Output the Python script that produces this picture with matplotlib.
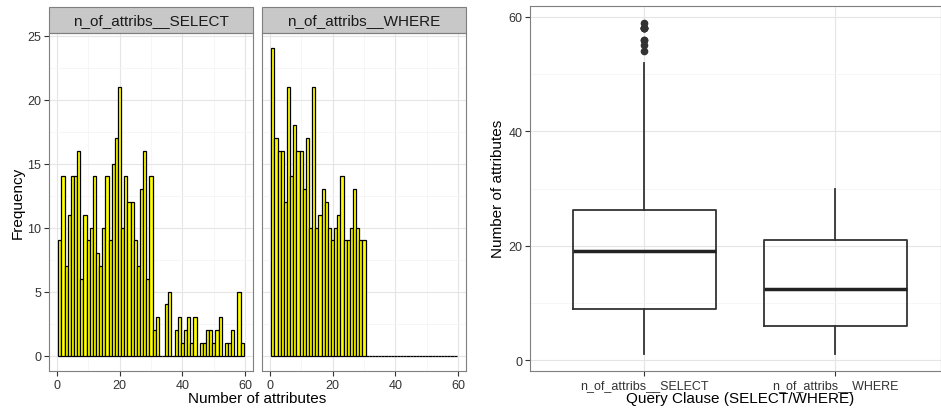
import matplotlib
matplotlib.use("Agg")
from matplotlib.patches import Rectangle
from matplotlib.ticker import MultipleLocator
import matplotlib.pyplot as plt
import numpy as np

plt.rcParams["font.family"] = ["Liberation Sans", "DejaVu Sans"]

# histogram counts per number of attributes (1..59)
n_attribs = np.arange(1, 60)
select_counts = [9, 14, 7, 11, 14, 14, 16, 6, 11, 9,
                 10, 14, 8, 7, 10, 14, 9, 15, 17, 21,
                 10, 14, 12, 12, 9, 7, 13, 16, 6, 14,
                 2, 3, 0, 0, 4, 5, 0, 2, 3, 1,
                 2, 3, 1, 3, 0, 1, 1, 2, 2, 1,
                 2, 3, 0, 1, 1, 2, 0, 5, 1]
where_counts = [24, 17, 16, 16, 12, 21, 14, 18, 16, 16,
                13, 17, 10, 21, 10, 11, 13, 12, 10, 9,
                10, 11, 14, 9, 9, 10, 13, 10, 9, 9] + [0] * 29
facet_names = ["n_of_attribs__SELECT", "n_of_attribs__WHERE"]

grid_major, grid_minor = "#e5e5e5", "#f5f5f5"
border_col, text_col = "#7f7f7f", "#333333"
W, H = 941, 410


def px_box(x0, y0, x1, y1):
    # pixel box (top-left origin) -> figure fraction rect
    return [x0 / W, 1 - y1 / H, (x1 - x0) / W, (y1 - y0) / H]


def style_axes(ax):
    ax.set_facecolor("white")
    for sp in ax.spines.values():
        sp.set_color(border_col)
        sp.set_linewidth(0.8)
    ax.grid(which="major", color=grid_major, lw=0.8)
    ax.grid(which="minor", color=grid_minor, lw=0.6)
    ax.set_axisbelow(True)
    ax.tick_params(which="major", length=3.5, width=0.8, color=text_col,
                   labelcolor=text_col, labelsize=9, pad=2)
    ax.tick_params(which="minor", length=0)


fig = plt.figure(figsize=(W / 100, H / 100), dpi=100)

panels = [(49, 253), (262, 466)]
for i, (counts, name) in enumerate(zip([select_counts, where_counts], facet_names)):
    x0, x1 = panels[i]
    ax = fig.add_axes(px_box(x0, 34, x1, 372))
    style_axes(ax)
    ax.bar(n_attribs, counts, width=1, color="yellow", edgecolor="black", lw=0.9)
    ax.set_xlim(-2.45, 62.45)
    ax.set_ylim(-1.2, 25.2)
    ax.xaxis.set_major_locator(MultipleLocator(20))
    ax.xaxis.set_minor_locator(MultipleLocator(10))
    ax.yaxis.set_major_locator(MultipleLocator(5))
    ax.yaxis.set_minor_locator(MultipleLocator(2.5))
    if i == 1:
        ax.tick_params(axis="y", which="both", left=False, labelleft=False)
    # facet strip
    strip_h = 26 / 338
    ax.add_patch(Rectangle((0, 1), 1, strip_h, transform=ax.transAxes,
                           facecolor="#c8c8c8", edgecolor=border_col, lw=0.8,
                           clip_on=False))
    ax.text(0.5, 1 + strip_h / 2, name, transform=ax.transAxes, ha="center",
            va="center", fontsize=11, color="#1a1a1a")

fig.text(257 / W, 1 - 399 / H, "Number of attributes", ha="center", va="center",
         fontsize=11)
fig.text(18 / W, 1 - 203 / H, "Frequency", ha="center", va="center",
         rotation=90, fontsize=11)

# boxplot of raw values rebuilt from the histogram counts
select_vals = np.repeat(n_attribs, select_counts)
where_vals = np.repeat(n_attribs, where_counts)

bx = fig.add_axes(px_box(530, 7, 941, 372))
style_axes(bx)
line = dict(color=text_col, lw=1.3)
bx.boxplot([select_vals, where_vals], positions=[1, 2], widths=0.75, whis=1.5,
           boxprops=line, whiskerprops=line, capprops=dict(lw=0),
           medianprops=dict(color="#222222", lw=2.5),
           flierprops=dict(marker="o", markersize=4.5, markerfacecolor=text_col,
                           markeredgecolor=text_col))
bx.set_xlim(0.4, 2.555)
bx.set_ylim(-1.9, 61.9)
bx.set_xticks([1, 2])
bx.set_xticklabels(facet_names)
bx.yaxis.set_major_locator(MultipleLocator(20))
bx.yaxis.set_minor_locator(MultipleLocator(10))
bx.tick_params(axis="x", labelsize=9)

fig.text(740 / W, 1 - 399 / H, "Query Clause (SELECT/WHERE)", ha="center",
         va="center", fontsize=11)
fig.text(498 / W, 1 - 189 / H, "Number of attributes", ha="center", va="center",
         rotation=90, fontsize=11)

fig.savefig("out.png", dpi=100)
